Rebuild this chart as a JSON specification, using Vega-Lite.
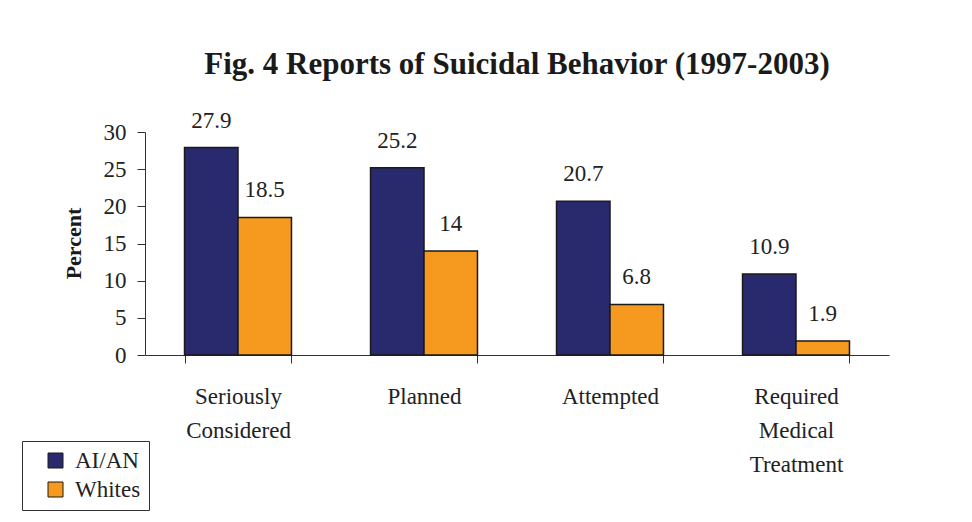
{
  "$schema": "https://vega.github.io/schema/vega-lite/v6.json",
  "width": 744,
  "height": 223,
  "autosize": {"type": "none"},
  "padding": {"left": 145, "top": 132, "right": 83, "bottom": 167},
  "background": "white",
  "config": {"view": {"stroke": null}},
  "title": {
    "text": "Fig. 4 Reports of Suicidal Behavior (1997-2003)",
    "font": "Liberation Serif",
    "fontSize": 31,
    "fontWeight": "bold",
    "color": "#1a1a1a",
    "anchor": "middle",
    "frame": "group",
    "baseline": "alphabetic",
    "offset": 5
  },
  "data": {
    "values": [
      {"behavior": "Seriously Considered", "group": "AI/AN", "percent": 27.9},
      {"behavior": "Seriously Considered", "group": "Whites", "percent": 18.5},
      {"behavior": "Planned", "group": "AI/AN", "percent": 25.2},
      {"behavior": "Planned", "group": "Whites", "percent": 14},
      {"behavior": "Attempted", "group": "AI/AN", "percent": 20.7},
      {"behavior": "Attempted", "group": "Whites", "percent": 6.8},
      {"behavior": "Required Medical Treatment", "group": "AI/AN", "percent": 10.9},
      {"behavior": "Required Medical Treatment", "group": "Whites", "percent": 1.9}
    ]
  },
  "encoding": {
    "x": {
      "field": "behavior",
      "type": "nominal",
      "sort": ["Seriously Considered", "Planned", "Attempted", "Required Medical Treatment"],
      "scale": {"paddingInner": 0.425, "paddingOuter": 0.2125},
      "axis": {
        "title": null,
        "labelAngle": 0,
        "labelFont": "Liberation Serif",
        "labelFontSize": 23,
        "labelColor": "#222222",
        "labelLineHeight": 34,
        "labelPadding": 22,
        "labelLimit": 400,
        "labelExpr": "datum.value == 'Seriously Considered' ? ['Seriously', 'Considered'] : datum.value == 'Required Medical Treatment' ? ['Required', 'Medical', 'Treatment'] : datum.value",
        "tickBand": "extent",
        "tickSize": 8,
        "tickColor": "#333333",
        "domainColor": "#333333",
        "grid": false
      }
    },
    "xOffset": {"field": "group", "type": "nominal", "sort": ["AI/AN", "Whites"]},
    "y": {
      "field": "percent",
      "type": "quantitative",
      "scale": {"domain": [0, 30]},
      "axis": {
        "title": "Percent",
        "titleFont": "Liberation Serif",
        "titleFontSize": 22,
        "titleFontWeight": "bold",
        "titleColor": "#1a1a1a",
        "titleAngle": -90,
        "titleX": -65,
        "titleY": 111,
        "titleAlign": "center",
        "titleBaseline": "alphabetic",
        "values": [0, 5, 10, 15, 20, 25, 30],
        "labelFont": "Liberation Serif",
        "labelFontSize": 23,
        "labelColor": "#222222",
        "labelPadding": 11,
        "tickSize": 8,
        "tickColor": "#333333",
        "domainColor": "#333333",
        "grid": false
      }
    }
  },
  "layer": [
    {
      "mark": {"type": "bar", "stroke": "#1a1a1a", "strokeWidth": 1.5},
      "encoding": {
        "color": {
          "field": "group",
          "type": "nominal",
          "sort": ["AI/AN", "Whites"],
          "scale": {"domain": ["AI/AN", "Whites"], "range": ["#29296e", "#f59a1e"]},
          "legend": {
            "orient": "none",
            "legendX": -123,
            "legendY": 309,
            "title": null,
            "strokeColor": "#333333",
            "fillColor": "white",
            "padding": 8,
            "symbolType": "square",
            "symbolSize": 225,
            "symbolStrokeColor": "#1a1a1a",
            "symbolStrokeWidth": 1,
            "symbolOffset": 14,
            "labelFont": "Liberation Serif",
            "labelFontSize": 23,
            "labelColor": "#222222",
            "labelOffset": 8,
            "rowPadding": 5
          }
        }
      }
    },
    {
      "mark": {
        "type": "text",
        "baseline": "alphabetic",
        "dy": -20,
        "font": "Liberation Serif",
        "fontSize": 23,
        "color": "#222222"
      },
      "encoding": {"text": {"field": "percent", "type": "quantitative"}}
    }
  ]
}
